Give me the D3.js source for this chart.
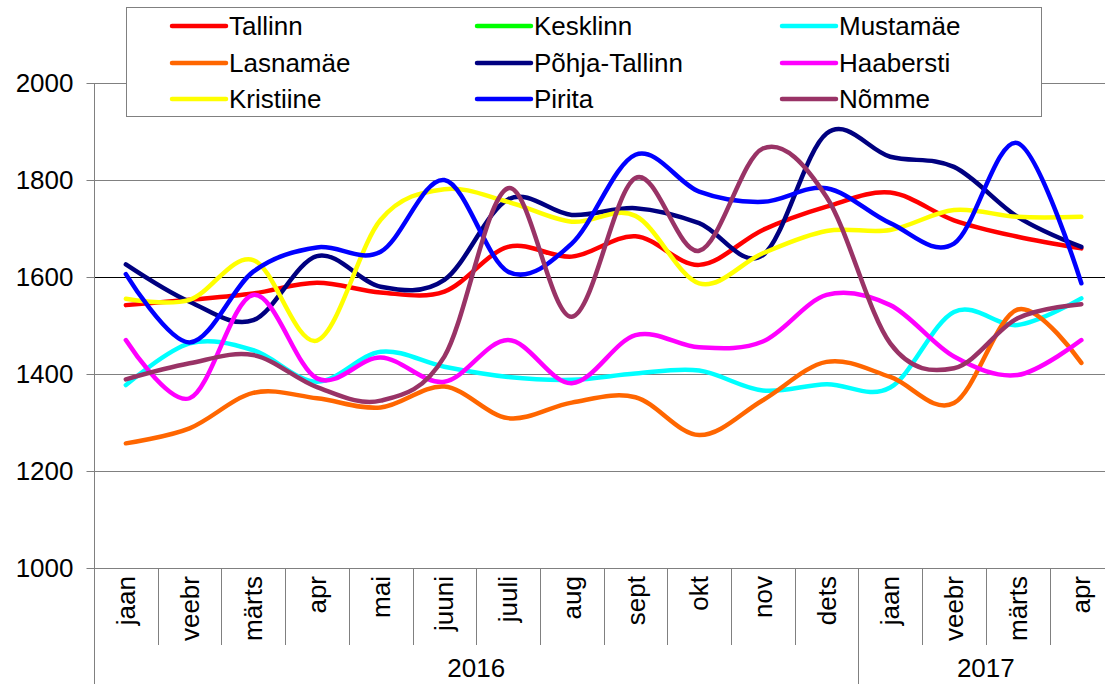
<!DOCTYPE html>
<html>
<head>
<meta charset="utf-8">
<script src="https://cdn.jsdelivr.net/npm/d3@7"></script>
<style>
  body { margin: 0; background: #fff; overflow: hidden; }
  svg { display: block; font-family: "Liberation Sans", Arial, sans-serif; }
</style>
</head>
<body>
<svg></svg>
<script>
// month labels and years below them
let months = ["jaan", "veebr", "märts", "apr", "mai", "juuni", "juuli", "aug",
              "sept", "okt", "nov", "dets", "jaan", "veebr", "märts", "apr"]
let years = ["2016", "2017"]
let yearMonths = [12, 4]

let yTicks = [1000, 1200, 1400, 1600, 1800, 2000]

// series values, one per month
let tallinn     = [1542, 1553, 1566, 1588, 1568, 1570, 1662, 1642, 1684, 1625, 1697, 1745, 1774, 1717, 1683, 1659]
let kesklinn    = [null, null, null, null, null, null, null, null, null, null, null, null, null, null, null, null]
let mustamae    = [1377, 1463, 1449, 1384, 1446, 1415, 1394, 1388, 1401, 1407, 1366, 1379, 1372, 1528, 1501, 1556]
let lasnamae    = [1257, 1288, 1361, 1350, 1331, 1374, 1309, 1341, 1352, 1274, 1346, 1425, 1394, 1340, 1533, 1423]
let pohjaTallinn= [1626, 1549, 1511, 1643, 1580, 1594, 1760, 1728, 1742, 1711, 1645, 1896, 1848, 1827, 1724, 1662]
let haabersti   = [1470, 1350, 1563, 1391, 1434, 1384, 1470, 1381, 1480, 1455, 1467, 1563, 1542, 1436, 1398, 1470]
let kristiine   = [1555, 1553, 1635, 1469, 1718, 1781, 1755, 1714, 1726, 1587, 1649, 1695, 1697, 1738, 1724, 1724]
let pirita      = [1606, 1465, 1611, 1661, 1652, 1800, 1611, 1669, 1852, 1776, 1755, 1783, 1711, 1669, 1876, 1587]
let nomme       = [1389, 1422, 1439, 1373, 1345, 1436, 1783, 1518, 1804, 1654, 1865, 1765, 1463, 1412, 1515, 1544]

let seriesNames = ["Tallinn", "Kesklinn", "Mustamäe", "Lasnamäe", "Põhja-Tallinn",
                   "Haabersti", "Kristiine", "Pirita", "Nõmme"]
let seriesColors = ["#ff0000", "#00ff00", "#00ffff", "#ff6600", "#000080",
                    "#ff00ff", "#ffff00", "#0000ff", "#993366"]
let seriesValues = [tallinn, kesklinn, mustamae, lasnamae, pohjaTallinn,
                    haabersti, kristiine, pirita, nomme]

let width = 1105
let height = 684
let plotLeft = 94
let plotTop = 83
let plotBottom = 568
let bandW = 63.7
let fontSize = 26
let gray = "#808080"

let svg = d3.select("svg")
            .attr("width", width)
            .attr("height", height)

let xScale = d3.scaleBand()
               .domain(d3.range(months.length))
               .range([plotLeft, plotLeft + bandW * months.length])
let yScale = d3.scaleLinear()
               .domain([1000, 2000])
               .range([plotBottom, plotTop])

// gridlines
svg.append("g")
   .selectAll("line")
   .data(yTicks.filter(d => d > 1000))
   .enter()
   .append("line")
   .attr("x1", plotLeft)
   .attr("x2", width)
   .attr("y1", d => Math.round(yScale(d)) + 0.5)
   .attr("y2", d => Math.round(yScale(d)) + 0.5)
   .attr("stroke", d => d == 1600 ? "#000" : gray)
   .attr("stroke-width", 1)

// y axis
let yAxis = d3.axisLeft(yScale)
              .tickValues(yTicks)
              .tickFormat(d3.format("d"))
              .tickSize(8)
              .tickPadding(13)
let yg = svg.append("g")
            .attr("transform", "translate(" + (plotLeft + 0.5) + ",0)")
            .call(yAxis)
yg.select(".domain").remove()
yg.selectAll(".tick line").attr("stroke", gray)
yg.selectAll(".tick text")
  .attr("font-size", fontSize)
  .attr("font-family", "Liberation Sans, Arial, sans-serif")
  .attr("fill", "#000")
svg.append("line")
   .attr("x1", plotLeft + 0.5).attr("x2", plotLeft + 0.5)
   .attr("y1", plotTop).attr("y2", height)
   .attr("stroke", gray)

// x axis line
svg.append("line")
   .attr("x1", plotLeft).attr("x2", width)
   .attr("y1", plotBottom + 0.5).attr("y2", plotBottom + 0.5)
   .attr("stroke", gray)

// month separators
svg.append("g")
   .selectAll("line")
   .data(d3.range(1, months.length))
   .enter()
   .append("line")
   .attr("x1", d => Math.round(xScale(d)) + 0.5)
   .attr("x2", d => Math.round(xScale(d)) + 0.5)
   .attr("y1", plotBottom)
   .attr("y2", plotBottom + 77)
   .attr("stroke", gray)

// month labels
svg.append("g")
   .selectAll("text")
   .data(months)
   .enter()
   .append("text")
   .attr("transform", (d, i) => "translate(" + (xScale(i) + xScale.bandwidth() / 2) + "," + (plotBottom + 8) + ") rotate(-90)")
   .attr("text-anchor", "end")
   .attr("dy", "0.35em")
   .attr("font-size", fontSize)
   .text(d => d)

// year separators and labels
let start = 0
years.forEach((yr, k) => {
  let x0 = xScale(start)
  let x1 = xScale(start + yearMonths[k] - 1) + xScale.bandwidth()
  if (start > 0) {
    svg.append("line")
       .attr("x1", Math.round(x0) + 0.5).attr("x2", Math.round(x0) + 0.5)
       .attr("y1", plotBottom).attr("y2", height)
       .attr("stroke", gray)
  }
  svg.append("text")
     .attr("x", (x0 + x1) / 2)
     .attr("y", 677)
     .attr("text-anchor", "middle")
     .attr("font-size", fontSize)
     .text(yr)
  start += yearMonths[k]
})

// lines
let line = d3.line()
             .defined(d => d != null)
             .x((d, i) => xScale(i) + xScale.bandwidth() / 2)
             .y(d => yScale(d))
             .curve(d3.curveCatmullRom.alpha(0))

svg.append("g")
   .selectAll("path")
   .data(seriesValues)
   .enter()
   .append("path")
   .attr("d", d => line(d))
   .attr("fill", "none")
   .attr("stroke", (d, i) => seriesColors[i])
   .attr("stroke-width", 4.5)
   .attr("stroke-linecap", "round")
   .attr("stroke-linejoin", "round")

// legend
let legend = svg.append("g")
legend.append("rect")
      .attr("x", 126.5).attr("y", 7.5)
      .attr("width", 915).attr("height", 109)
      .attr("fill", "#fff")
      .attr("stroke", gray)

let colX = [172, 477, 782]
let rowY = [26, 63, 99]
let items = legend.selectAll(".item")
                  .data(seriesNames)
                  .enter()
                  .append("g")
                  .attr("class", "item")
                  .attr("transform", (d, i) => "translate(" + colX[i % 3] + "," + rowY[Math.floor(i / 3)] + ")")
items.append("line")
     .attr("x1", 0).attr("x2", 54)
     .attr("y1", 0).attr("y2", 0)
     .attr("stroke", (d, i) => seriesColors[i])
     .attr("stroke-width", 4.5)
     .attr("stroke-linecap", "round")
items.append("text")
     .attr("x", 57)
     .attr("dy", "0.35em")
     .attr("font-size", fontSize)
     .text(d => d)
</script>
</body>
</html>
